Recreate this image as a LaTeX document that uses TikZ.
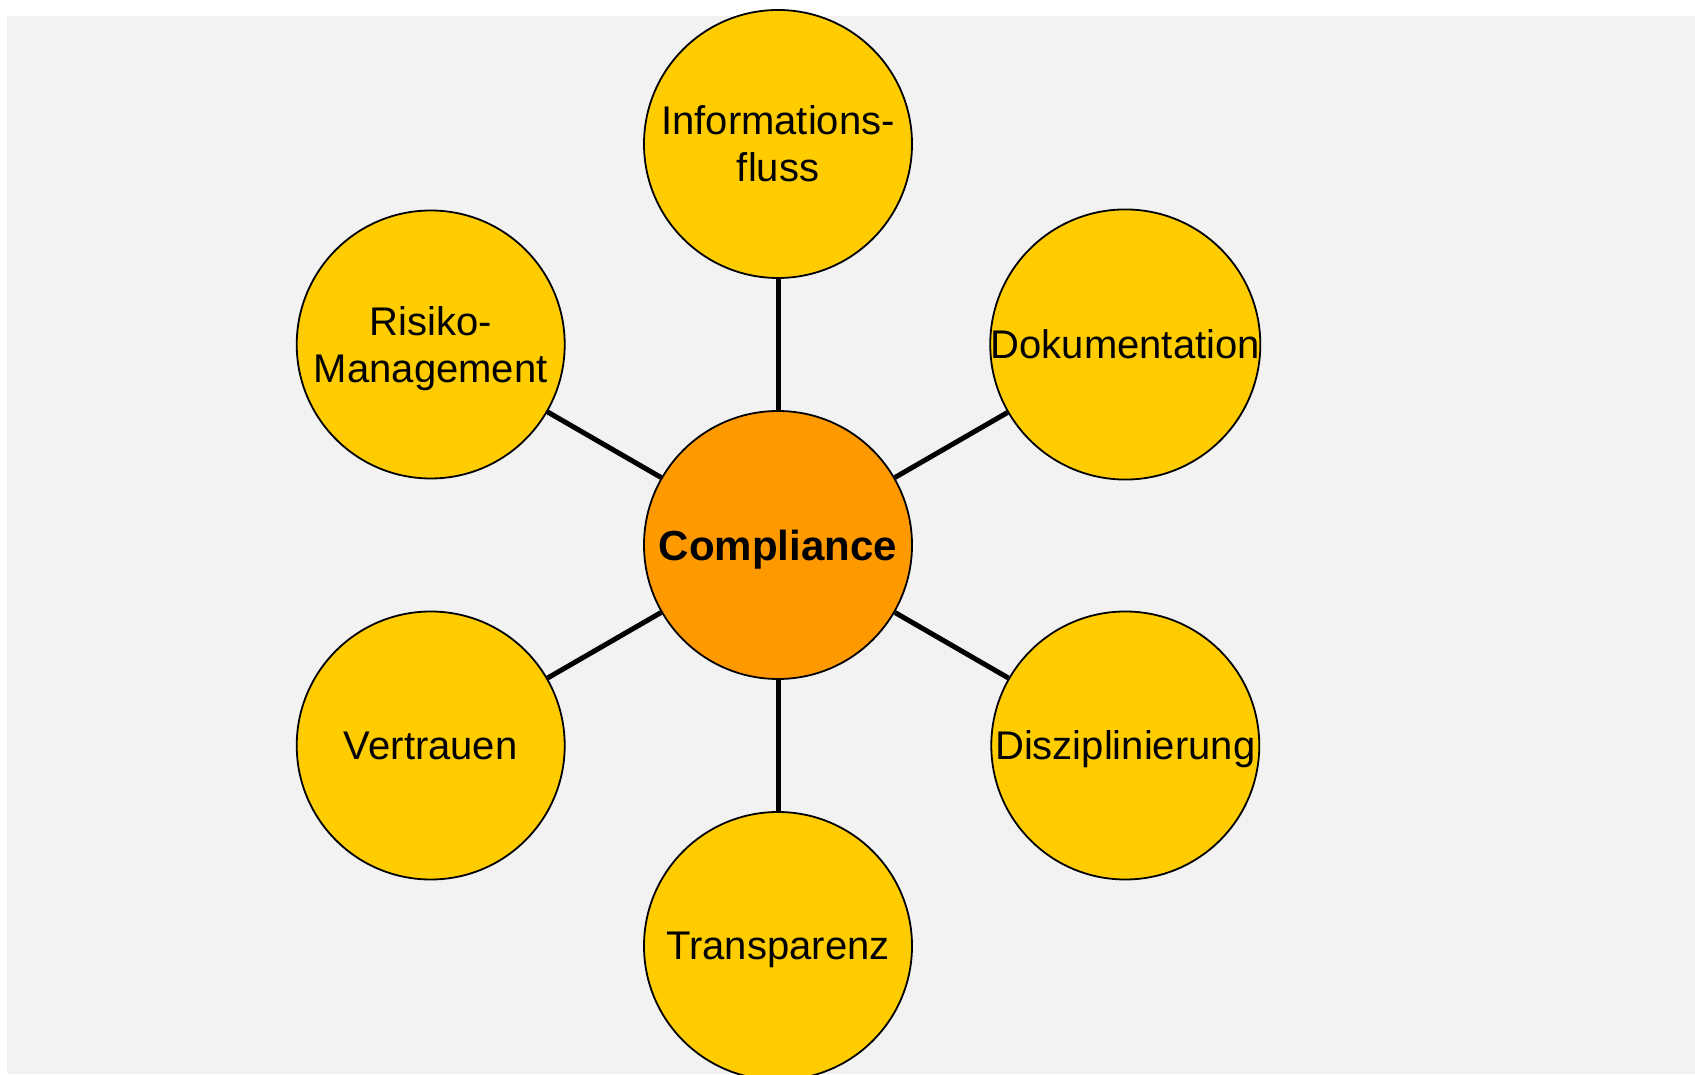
\documentclass[tikz,border=0pt]{standalone}
\usepackage{fontspec}
\setmainfont{Liberation Sans}
\usetikzlibrary{positioning}
\definecolor{bggray}{HTML}{F2F2F2}
\definecolor{topicyellow}{HTML}{FFCC00}
\definecolor{coreorange}{HTML}{FF9900}

\begin{document}
\begin{tikzpicture}[x=1pt,y=1pt,
  topicstyle/.style={circle,draw,line width=1.8pt,fill=topicyellow,minimum size=268pt,inner sep=0pt,text depth=0pt,align=center,font=\fontsize{40}{47}\selectfont},
  corestyle/.style={topicstyle,fill=coreorange,font=\fontsize{42}{48}\selectfont\bfseries},
  linkstyle/.style={line width=5pt}]
\useasboundingbox (0,0) rectangle (1695,1074);
\fill[bggray] (7,0) rectangle (1695,1058);
\begin{scope}[shift={(778,529)}]
\node[corestyle] (comp) at (0,0) {Compliance};
\node[topicstyle] (info) at (90:401) {Informations-\\fluss};
\node[topicstyle] (doku) at (30:401) {Dokumentation};
\node[topicstyle] (diszi) at (-30:401) {Disziplinierung};
\node[topicstyle] (trans) at (-90:401) {Transparenz};
\node[topicstyle] (vertr) at (210:401) {Vertrauen};
\node[topicstyle] (risiko) at (150:401) {Risiko-\\Management};
\end{scope}
\foreach \n in {info,doku,diszi,trans,vertr,risiko}
    \draw[linkstyle] (comp) -- (\n);
\end{tikzpicture}
\end{document}
